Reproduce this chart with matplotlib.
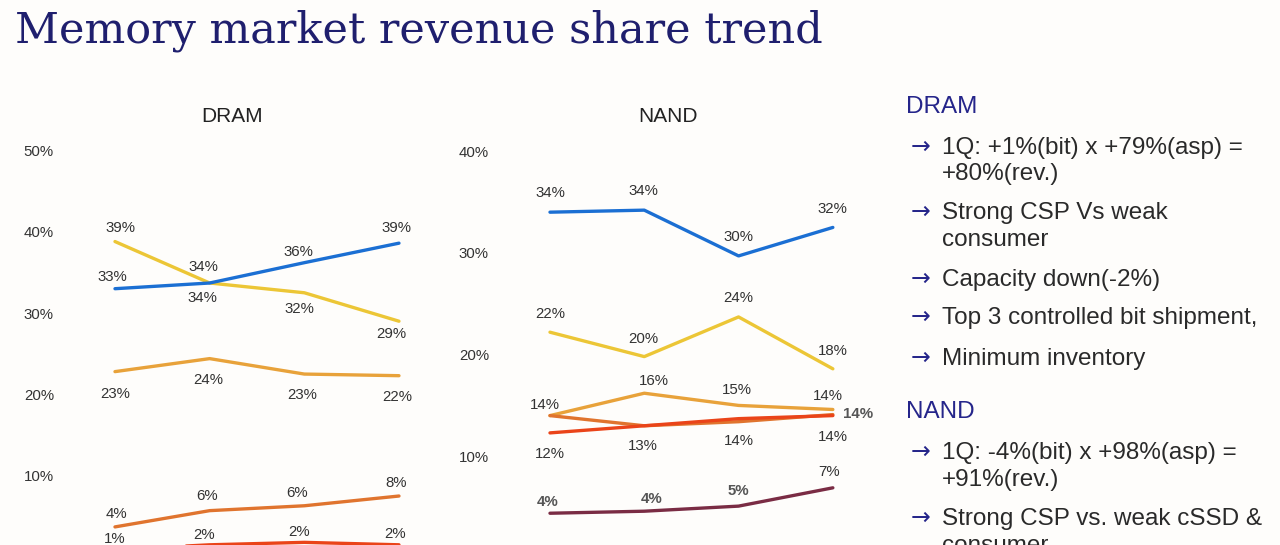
"""
plot.py
Memory market revenue share trend: DRAM and NAND line charts with notes.
"""

import matplotlib
matplotlib.use('Agg')
import matplotlib.pyplot as plt
from matplotlib.ticker import FuncFormatter

# ============================================
# DATA
# ============================================

quarters = ['Q1', 'Q2', 'Q3', 'Q4']

# DRAM revenue share (%)
dram_blue = [33.0, 33.7, 36.2, 38.6]
dram_yellow = [38.8, 33.7, 32.5, 29.0]
dram_gold = [22.8, 24.4, 22.5, 22.3]
dram_orange = [3.7, 5.7, 6.3, 7.5]
dram_red = [0.9, 1.5, 1.8, 1.5]

# published (rounded) labels for the DRAM points
dram_blue_lbl = [33, 34, 36, 39]
dram_yellow_lbl = [39, 34, 32, 29]
dram_gold_lbl = [23, 24, 23, 22]
dram_orange_lbl = [4, 6, 6, 8]
dram_red_lbl = [1, 2, 2, 2]

# NAND revenue share (%)
nand_blue = [34.0, 34.2, 29.7, 32.5]
nand_yellow = [22.2, 19.8, 23.7, 18.6]
nand_gold = [14.0, 16.2, 15.0, 14.6]
nand_orange = [14.0, 13.0, 13.4, 14.1]
nand_red = [12.3, 13.0, 13.7, 14.0]
nand_maroon = [4.4, 4.6, 5.1, 6.9]

nand_blue_lbl = [34, 34, 30, 32]
nand_yellow_lbl = [22, 20, 24, 18]
nand_gold_lbl = [14, 16, 15, 14]
nand_orange_lbl = [None, 13, 14, 14]
nand_red_lbl = [12, None, None, 14]
nand_maroon_lbl = [4, 4, 5, 7]

dram_yticks = [10, 20, 30, 40, 50]
nand_yticks = [10, 20, 30, 40]

# right-hand notes: (kind, text)
notes_text = [
    ('head', 'DRAM'),
    ('bullet', '1Q: +1%(bit) x +79%(asp) ='),
    ('cont', '+80%(rev.)'),
    ('bullet', 'Strong CSP Vs weak'),
    ('cont', 'consumer'),
    ('bullet', 'Capacity down(-2%)'),
    ('bullet', 'Top 3 controlled bit shipment,'),
    ('bullet', 'Minimum inventory'),
    ('head', 'NAND'),
    ('bullet', '1Q: -4%(bit) x +98%(asp) ='),
    ('cont', '+91%(rev.)'),
    ('bullet', 'Strong CSP vs. weak cSSD &'),
    ('cont', 'consumer'),
]

# ============================================
# STYLE
# ============================================

W, H = 1280, 545
BG = '#fefdfb'
NAVY = '#1f1f6e'
TXT = '#333333'

C_BLUE = '#1b6fd3'
C_YELLOW = '#ecc636'
C_GOLD = '#e8a23a'
C_ORANGE = '#e0742e'
C_RED = '#ea4419'
C_MAROON = '#7a2c44'

plt.rcParams['font.family'] = ['Liberation Sans', 'DejaVu Sans']


def px_axes(fig, left, right, top, bottom):
    """Add axes given pixel edges (y measured from the top of the image)."""
    return fig.add_axes([left / W, 1 - bottom / H, (right - left) / W, (bottom - top) / H])


def draw_panel(ax, series, yticks, xlim, ylim):
    """Draw a set of share lines with their point labels."""
    x = list(range(len(quarters)))
    for values, labels, color, offsets, bold in series:
        ax.plot(x, values, color=color, linewidth=2.4, solid_capstyle='round',
                clip_on=False, zorder=3)
        for i, (v, lbl) in enumerate(zip(values, labels)):
            if lbl is None or offsets[i] is None:
                continue
            dx, dy = offsets[i]
            is_bold = bold[i] if bold else False
            ax.annotate(f'{lbl}%', (x[i], v), xytext=(dx * 0.72, -dy * 0.72),
                        textcoords='offset points', ha='center', va='center',
                        fontsize=10.8, color='#555555' if is_bold else TXT,
                        fontweight='bold' if is_bold else 'normal',
                        annotation_clip=False, zorder=4)

    ax.set_xlim(*xlim)
    ax.set_ylim(*ylim)
    ax.set_yticks(yticks)
    ax.yaxis.set_major_formatter(FuncFormatter(lambda v, p: f'{v:.0f}%'))
    ax.set_xticks([])
    ax.tick_params(axis='y', length=0, pad=8, labelsize=10.8, labelcolor=TXT)
    for side in ax.spines.values():
        side.set_visible(False)
    ax.patch.set_alpha(0)


def draw_notes(fig):
    """Right-hand text with headings and arrow bullets."""
    baselines = [113, 154, 180, 219, 246, 286, 324, 365, 418, 459, 486, 525, 552]
    for (kind, text), yb in zip(notes_text, baselines):
        fy = 1 - yb / H
        if kind == 'head':
            fig.text(906 / W, fy, text, fontsize=17.5, color='#25258a', va='baseline')
        else:
            if kind == 'bullet':
                # arrow sits at the middle of the cap height
                fig.text(911 / W, 1 - (yb - 7) / H, '\u2192', fontsize=17,
                         color='#25258a', va='center', family=['DejaVu Sans'])
            fig.text(942 / W, fy, text, fontsize=17.5, color='#2a2a2a', va='baseline')


def main():
    fig = plt.figure(figsize=(W / 100, H / 100), dpi=100, facecolor=BG)

    # title
    fig.text(15 / W, 1 - 42 / H, 'Memory market revenue share trend',
             family=['DejaVu Serif'], fontsize=31, color=NAVY, va='baseline')

    # DRAM chart
    ax1 = px_axes(fig, 65, 450, 130, 600)
    dram_series = [
        (dram_gold, dram_gold_lbl, C_GOLD, [(0, 22), (-1, 21), (-2, 21), (-2, 21)], None),
        (dram_yellow, dram_yellow_lbl, C_YELLOW, [(5, -14), (-6, -16), (-5, 16), (-8, 13)], None),
        (dram_blue, dram_blue_lbl, C_BLUE, [(-3, -12), (-7, 15), (-6, -11), (-3, -15)], None),
        (dram_orange, dram_orange_lbl, C_ORANGE, [(1, -13), (-3, -15), (-7, -13), (-3, -13)], None),
        (dram_red, dram_red_lbl, C_RED, [(0, -11), (-6, -10), (-5, -10), (-4, -11)], None),
    ]
    draw_panel(ax1, dram_series, dram_yticks, (-0.528, 3.539), (-5.29, 52.52))
    fig.text(232 / W, 1 - 117 / H, 'DRAM', fontsize=15, color='#222222', ha='center', va='center')

    # NAND chart
    ax2 = px_axes(fig, 500, 880, 130, 600)
    nand_series = [
        (nand_blue, nand_blue_lbl, C_BLUE, [(0, -19), (-1, -19), (0, -19), (0, -18)], None),
        (nand_yellow, nand_yellow_lbl, C_YELLOW, [(0, -18), (-1, -18), (0, -19), (0, -18)], None),
        (nand_gold, nand_gold_lbl, C_GOLD, [(-5, -11), (10, -12), (-2, -15), (-5, -13)], None),
        (nand_orange, nand_orange_lbl, C_ORANGE, [None, (-1, 20), (0, 19), (0, 22)], None),
        (nand_red, nand_red_lbl, C_RED, [(0, 21), None, None, (25, -2)],
         [False, False, False, True]),
        (nand_maroon, nand_maroon_lbl, C_MAROON, [(-2, -11), (7, -12), (0, -15), (-4, -16)],
         [True, True, True, False]),
    ]
    draw_panel(ax2, nand_series, nand_yticks, (-0.53, 3.50), (-4.13, 42.08))
    fig.text(668 / W, 1 - 117 / H, 'NAND', fontsize=15, color='#222222', ha='center', va='center')

    draw_notes(fig)

    fig.savefig('out.png', dpi=100, facecolor=BG)
    print("Saved out.png")


if __name__ == "__main__":
    main()
